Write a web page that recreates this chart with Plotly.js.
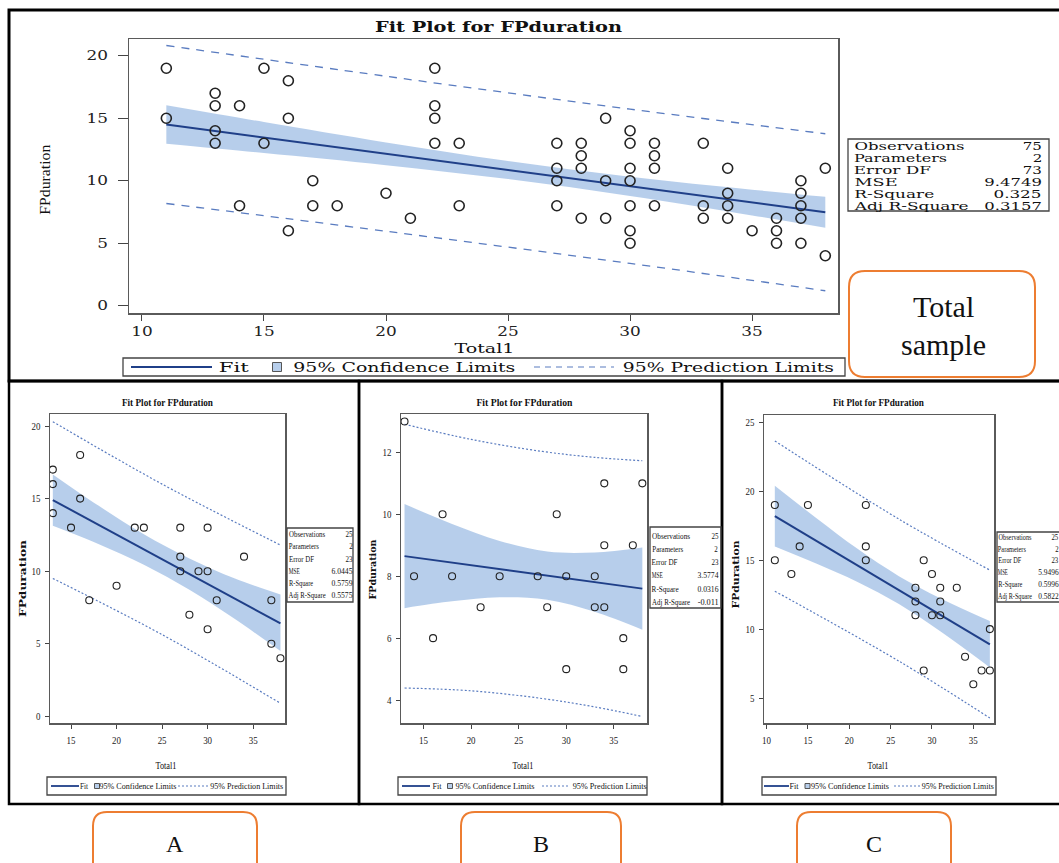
<!DOCTYPE html>
<html><head><meta charset="utf-8">
<script src="https://cdn.plot.ly/plotly-3.0.1.min.js"></script>
<style>html,body{margin:0;padding:0;background:#fff;overflow:hidden}#chart{width:1059px;height:863px}</style>
</head><body><div id="chart"></div>
<script>
// ---------------- DATA ----------------
const statLabels = ["Observations","Parameters","Error DF","MSE","R-Square","Adj R-Square"];
const legendLabels = ["Fit","95% Confidence Limits","95% Prediction Limits"];
const plotTitle = "Fit Plot for FPduration";
const xTitle = "Total1";
const yTitle = "FPduration";
const panelTags = ["A","B","C"];
const totalTag = ["Total","sample"];

// Total sample
const totalX = [11,11,13,13,13,13,14,14,15,15,16,16,16,17,17,18,20,21,22,22,22,22,23,23,27,27,27,27,28,28,28,28,29,29,29,30,30,30,30,30,30,30,31,31,31,31,33,33,33,34,34,34,34,35,36,36,36,37,37,37,37,37,38,38];
const totalY = [19,15,17,16,14,13,16,8,19,13,18,15,6,10,8,8,9,7,19,16,15,13,13,8,13,11,10,8,13,12,11,7,15,10,7,14,13,11,10,8,6,5,13,12,11,8,13,8,7,11,9,8,7,6,7,6,5,10,9,8,7,5,11,4];
const totalFitX = [11,38];
const totalFitY = [14.5,7.48];
const totalBandX = [11,15,20,25,30,35,38];
const totalBandUp = [16.04,14.70,13.07,11.58,10.33,9.29,8.72];
const totalBandLo = [12.96,12.22,11.25,10.14,8.79,7.23,6.24];
const totalPredX = [11,20,30,38];
const totalPredUp = [20.82,18.36,15.73,13.76];
const totalPredLo = [8.18,5.96,3.39,1.2];
const totalStats = ["75","2","73","9.4749","0.325","0.3157"];
const totalXTicks = [10,15,20,25,30,35];
const totalYTicks = [0,5,10,15,20];

// Panel A
const aX = [13,13,13,15,16,16,17,20,22,23,27,27,27,28,29,30,30,30,31,34,37,37,38];
const aY = [17,16,14,13,18,15,8,9,13,13,13,11,10,7,10,13,10,6,8,11,8,5,4];
const aFitX = [13,38];
const aFitY = [14.9,6.4];
const aBandX = [13,18,23,28,33,38];
const aBandUp = [16.67,14.52,12.55,10.88,9.5,8.4];
const aBandLo = [13.13,11.88,10.45,8.72,6.7,4.5];
const aPredX = [13,25,38];
const aPredUp = [20.3,16.0,11.8];
const aPredLo = [9.5,5.63,0.9];
const aStats = ["25","2","23","6.0445","0.5759","0.5575"];
const aXTicks = [15,20,25,30,35];
const aYTicks = [0,5,10,15,20];

// Panel B
const bX = [13,14,16,17,18,21,23,27,28,29,30,30,33,33,34,34,34,36,36,37,38];
const bY = [13,8,6,10,8,7,8,8,7,10,8,5,8,7,11,9,7,6,5,9,11];
const bFitX = [13,38];
const bFitY = [8.65,7.6];
const bBandX = [13,18,23,28,33,38];
const bBandUp = [10.33,9.69,9.14,8.80,8.77,8.93];
const bBandLo = [6.97,7.19,7.32,7.24,6.85,6.27];
const bPredX = [13,20,27.5,33,38];
const bPredUp = [12.91,12.42,12.03,11.84,11.73];
const bPredLo = [4.39,4.30,4.05,3.78,3.47];
const bStats = ["25","2","23","3.5774","0.0316","-0.011"];
const bXTicks = [15,20,25,30,35];
const bYTicks = [4,6,8,10,12];

// Panel C
const cX = [11,11,13,14,15,22,22,22,28,28,28,29,29,30,30,31,31,31,33,34,35,36,37,37];
const cY = [19,15,14,16,19,19,16,15,13,12,11,15,7,14,11,13,12,11,13,8,6,7,10,7];
const cFitX = [11,37];
const cFitY = [18.2,8.9];
const cBandX = [11,16,21,26,31,37];
const cBandUp = [20.4,18.06,15.82,13.84,12.24,10.58];
const cBandLo = [16.0,14.76,13.42,11.82,9.84,7.22];
const cPredX = [11,26,37];
const cPredUp = [23.65,17.98,14.28];
const cPredLo = [12.75,7.68,3.55];
const cStats = ["25","2","23","5.9496","0.5996","0.5822"];
const cXTicks = [10,15,20,25,30,35];
const cYTicks = [5,10,15,20,25];

// ---------------- STYLE / HELPERS ----------------
const W = 1059, H = 863;
const PX = x => x / W, PY = y => 1 - y / H;
const FIT_C = '#1f3f88', BAND_C = 'rgba(170,198,232,0.85)', PRED_C = '#5a7cc0', ORANGE = '#ed7d31';
const WIDE = 'DejaVu Serif', TIMES = 'Liberation Serif';

function panelTraces(n, X, Y, bX_, bU, bL, fX, fY, pX, pU, pL, opt) {
  const xa = n === 1 ? 'x' : 'x' + n, ya = n === 1 ? 'y' : 'y' + n;
  const base = {xaxis: xa, yaxis: ya, hoverinfo: 'skip', showlegend: false};
  return [
    Object.assign({}, base, {x: bX_, y: bL, mode: 'lines', line: {width: 0, shape: 'spline', color: BAND_C}}),
    Object.assign({}, base, {x: bX_, y: bU, mode: 'lines', fill: 'tonexty', fillcolor: BAND_C, line: {width: 0, shape: 'spline', color: BAND_C}}),
    Object.assign({}, base, {x: fX, y: fY, mode: 'lines', line: {width: opt.fitW, color: FIT_C}}),
    Object.assign({}, base, {x: pX, y: pU, mode: 'lines', line: {width: opt.predW, color: PRED_C, dash: opt.dash, shape: 'spline'}}),
    Object.assign({}, base, {x: pX, y: pL, mode: 'lines', line: {width: opt.predW, color: PRED_C, dash: opt.dash, shape: 'spline'}}),
    Object.assign({}, base, {x: X, y: Y, mode: 'markers', marker: {symbol: 'circle-open', size: opt.ms, color: '#222', line: {width: opt.mlw, color: '#222'}}})
  ];
}

function axis(dom, range, ticks, fam, size, len, anchor, standoff) {
  return {domain: dom, range: range, tickmode: 'array', tickvals: ticks, ticktext: ticks.map(String),
    ticks: 'outside', ticklen: len, tickwidth: 1, tickcolor: '#444', showline: true, mirror: true,
    linecolor: '#5a5a5a', linewidth: 1.5, showgrid: false, zeroline: false, fixedrange: true,
    tickfont: {family: fam, size: size, color: '#222'}, anchor: anchor, ticklabelstandoff: standoff};
}

const ann = [], shp = [], stretch = [];
// w: target text width in px; the text is centred on its target span and squeezed/stretched to it after drawing
function T(x, y, text, fam, size, o, w) {
  o = Object.assign({}, o || {});
  if (w) {
    if (o.xanchor === 'left') x += w / 2;
    else if (o.xanchor === 'right') x -= w / 2;
    o.xanchor = 'center';
  }
  ann.push(Object.assign({xref: 'paper', yref: 'paper', x: PX(x), y: PY(y), text: text, showarrow: false,
    font: {family: fam, size: size, color: '#111'}, xanchor: 'center', yanchor: 'middle'}, o));
  stretch.push(w || null);
}
function R(x0, y0, x1, y1, color, w, o) {
  shp.push(Object.assign({type: 'rect', xref: 'paper', yref: 'paper', x0: PX(x0), x1: PX(x1), y0: PY(y0), y1: PY(y1),
    line: {color: color, width: w}, fillcolor: 'rgba(0,0,0,0)', layer: 'above'}, o || {}));
}
function L(x0, y0, x1, y1, color, w, dash) {
  shp.push({type: 'line', xref: 'paper', yref: 'paper', x0: PX(x0), x1: PX(x1), y0: PY(y0), y1: PY(y1),
    line: {color: color, width: w, dash: dash || 'solid'}, layer: 'above'});
}
function ROUND(x0, y0, x1, y1, r, color, w) {
  const a = PX(x0), b = PX(x1), t = PY(y0), u = PY(y1);
  const rx = r / W, ry = r / H;
  const p = `M ${a + rx},${t} L ${b - rx},${t} Q ${b},${t} ${b},${t - ry} L ${b},${u + ry} Q ${b},${u} ${b - rx},${u} L ${a + rx},${u} Q ${a},${u} ${a},${u + ry} L ${a},${t - ry} Q ${a},${t} ${a + rx},${t} Z`;
  shp.push({type: 'path', xref: 'paper', yref: 'paper', path: p, line: {color: color, width: w}, fillcolor: 'rgba(0,0,0,0)', layer: 'above'});
}
function statsTable(g, vals) {
  R(g.x0, g.y0, g.x1, g.y1, '#444', 1.3);
  for (let i = 0; i < statLabels.length; i++) {
    T(g.lx, g.rows[i], statLabels[i], g.fam, g.size, {xanchor: 'left'}, g.lw[i]);
    T(g.vx, g.rows[i], vals[i], g.fam, g.size, {xanchor: 'right'}, vals[i].length * g.cw);
  }
}
function legendBox(g) {
  R(g.x0, g.y0, g.x1, g.y1, '#444', 1.3);
  const yc = (g.y0 + g.y1) / 2;
  L(g.l0, yc, g.l1, yc, FIT_C, g.fitW);
  T(g.t1, yc, legendLabels[0], g.fam, g.size, {xanchor: 'left'}, g.w[0]);
  R(g.sq - g.s / 2, yc - g.s / 2, g.sq + g.s / 2, yc + g.s / 2, '#555', 1, {fillcolor: BAND_C});
  T(g.t2, yc, legendLabels[1], g.fam, g.size, {xanchor: 'left'}, g.w[1]);
  L(g.d0, yc, g.d1, yc, PRED_C, 1.2, g.dash);
  T(g.t3, yc, legendLabels[2], g.fam, g.size, {xanchor: 'left'}, g.w[2]);
}

// ---------------- TRACES ----------------
const traces = [].concat(
  panelTraces(1, totalX, totalY, totalBandX, totalBandUp, totalBandLo, totalFitX, totalFitY, totalPredX, totalPredUp, totalPredLo,
    {fitW: 2, predW: 1.3, dash: '8px,7px', ms: 10, mlw: 1.6}),
  panelTraces(2, aX, aY, aBandX, aBandUp, aBandLo, aFitX, aFitY, aPredX, aPredUp, aPredLo,
    {fitW: 2, predW: 1.2, dash: '2px,2px', ms: 7, mlw: 1.1}),
  panelTraces(3, bX, bY, bBandX, bBandUp, bBandLo, bFitX, bFitY, bPredX, bPredUp, bPredLo,
    {fitW: 2, predW: 1.2, dash: '2px,2px', ms: 7, mlw: 1.1}),
  panelTraces(4, cX, cY, cBandX, cBandUp, cBandLo, cFitX, cFitY, cPredX, cPredUp, cPredLo,
    {fitW: 2, predW: 1.2, dash: '2px,2px', ms: 7, mlw: 1.1})
);

// ---------------- FRAMES & TEXT ----------------
R(9, 10, 1070, 381, '#000', 3);
R(9, 381, 359, 804, '#000', 2.5);
R(359, 381, 722, 804, '#000', 2.5);
R(722, 381, 1070, 804, '#000', 2.5);

// Top panel
T(498, 27, '<b>' + plotTitle + '</b>', WIDE, 14, {}, 247);
T(45, 180, yTitle, TIMES, 15, {textangle: -90}, 70);
T(484, 348, xTitle, WIDE, 13, {}, 60);
statsTable({x0: 848, y0: 139, x1: 1049, y1: 211, lx: 854, vx: 1042, rows: [145.7, 157.7, 169.5, 181.6, 193.5, 205.6],
  lw: [110, 93, 77, 43, 80, 114], cw: 9.6, fam: WIDE, size: 11.5}, totalStats);
legendBox({x0: 123, y0: 358, x1: 845, y1: 376, l0: 131, l1: 212, t1: 219, sq: 277, s: 9, t2: 293,
  d0: 534, d1: 614, t3: 623, fam: WIDE, size: 12.5, dash: '6px,5px', fitW: 1.8, w: [30, 222, 211]});
ROUND(849, 271, 1035, 377, 16, ORANGE, 2);
T(943, 307, totalTag[0], TIMES, 30);
T(943, 344, totalTag[1], TIMES, 30);

// Bottom panels
const pan = [
  {cx: 167, tw: 91, xtx: 166, ytx: 22, yty: 578, ytw: 77, stats: aStats,
   st: {x0: 287, y0: 528, x1: 353, y1: 602, lx: 289, vx: 352.5, cw: 3.5, size: 8, rows: [534.5, 546.7, 559, 571.2, 583.4, 595.6], lw: [36, 30, 25, 11, 24, 37]},
   lg: {x0: 47, y0: 777, x1: 286, y1: 795, l0: 51, l1: 79, t1: 80.5, sq: 97, s: 5, t2: 100, d0: 178, d1: 208, t3: 210, w: [8, 77, 73]}},
  {cx: 524, tw: 96, xtx: 523, ytx: 372, yty: 569, ytw: 60, stats: bStats,
   st: {x0: 650, y0: 527, x1: 721, y1: 608, lx: 652, vx: 718, cw: 3.5, size: 8, rows: [536, 549.3, 562.6, 575.8, 589.2, 602.4], lw: [38, 31, 26, 11, 27, 38]},
   lg: {x0: 398, y0: 777, x1: 647, y1: 795, l0: 402, l1: 430, t1: 433, sq: 450, s: 5, t2: 455.5, d0: 542, d1: 570, t3: 572.5, w: [9, 79, 74]}},
  {cx: 878, tw: 91, xtx: 878, ytx: 735, yty: 574, ytw: 68, stats: cStats,
   st: {x0: 997, y0: 532, x1: 1068, y1: 602, lx: 998, vx: 1058.5, cw: 3.4, size: 7.6, rows: [537.5, 549.2, 560.9, 572.6, 584.3, 596], lw: [33, 28, 23, 10, 24, 34]},
   lg: {x0: 762, y0: 777, x1: 996, y1: 795, l0: 764, l1: 789, t1: 790, sq: 807.5, s: 5, t2: 811, d0: 894, d1: 920, t3: 922, w: [9, 78, 72]}}
];
pan.forEach(p => {
  T(p.cx, 402, '<b>' + plotTitle + '</b>', TIMES, 11, {}, p.tw);
  T(p.ytx, p.yty, '<b>' + yTitle + '</b>', WIDE, 10, {textangle: -90}, p.ytw);
  T(p.xtx, 765, xTitle, TIMES, 11, {}, 21);
  statsTable(Object.assign({fam: TIMES}, p.st), p.stats);
  legendBox(Object.assign({fam: TIMES, size: 9, dash: '2px,2px', fitW: 1.8}, p.lg));
});
// tags below
[[93, 257, 175], [461, 621, 541], [797, 951, 874]].forEach((b, i) => {
  ROUND(b[0], 812, b[1], 878, 14, ORANGE, 2);
  T(b[2], 844, panelTags[i], TIMES, 24);
});

// ---------------- LAYOUT ----------------
const layout = {
  width: W, height: H, margin: {l: 0, r: 0, t: 0, b: 0}, paper_bgcolor: '#fff', plot_bgcolor: '#fff', showlegend: false,
  xaxis: axis([PX(129), PX(838)], [9.47, 38.52], totalXTicks, WIDE, 12.5, 6, 'y', 0),
  yaxis: axis([PY(313), PY(39)], [-0.58, 21.34], totalYTicks, WIDE, 12.5, 10, 'x', 7),
  xaxis2: axis([PX(50), PX(285)], [12.69, 38.5], aXTicks, TIMES, 10.5, 4, 'y2', 3),
  yaxis2: axis([PY(723), PY(414)], [-0.46, 20.83], aYTicks, TIMES, 10.5, 4, 'x2', 2),
  xaxis3: axis([PX(401), PX(647)], [12.63, 38.49], bXTicks, TIMES, 10.5, 4, 'y3', 3),
  yaxis3: axis([PY(723), PY(414)], [3.26, 13.24], bYTicks, TIMES, 10.5, 4, 'x3', 2),
  xaxis4: axis([PX(764), PX(994)], [9.69, 37.5], cXTicks, TIMES, 10.5, 4, 'y4', 3),
  yaxis4: axis([PY(723), PY(415)], [3.19, 25.53], cYTicks, TIMES, 10.5, 4, 'x4', 2),
  annotations: ann, shapes: shp
};

function fitText(t, w) {
  if (!t.getComputedTextLength()) return;
  t.setAttribute('textLength', w);
  t.setAttribute('lengthAdjust', 'spacingAndGlyphs');
}
Plotly.newPlot('chart', traces, layout, {staticPlot: true, displayModeBar: false}).then(() => {
  document.querySelectorAll('g.annotation').forEach(g => {
    const w = stretch[+g.getAttribute('data-index')];
    const t = g.querySelector('text.annotation-text');
    if (w && t) fitText(t, w);
  });
  // SAS-style wide tick labels on the top chart, narrow ones in the small panels
  document.querySelectorAll('g.xtick text, g.ytick text').forEach(t => fitText(t, t.getComputedTextLength() * 1.35));
  ['x2', 'y2', 'x3', 'y3', 'x4', 'y4'].forEach(a =>
    document.querySelectorAll('g.' + a + 'tick text').forEach(t => fitText(t, t.getComputedTextLength() * 0.85)));
});
</script></body></html>
